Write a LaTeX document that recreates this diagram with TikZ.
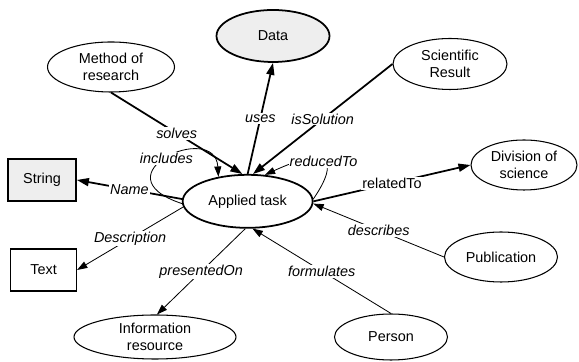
\documentclass[tikz,border=0pt]{standalone}
\usepackage{fontspec}
\setmainfont{Liberation Sans}
\usetikzlibrary{arrows.meta,shapes.geometric}
\definecolor{onshade}{RGB}{238,238,238}
\tikzset{
  concept/.style={ellipse, draw, line width=0.9pt, align=center, inner sep=0pt,
                  font=\fontsize{12.3}{14.5}\selectfont},
  core/.style={concept, line width=1.5pt},
  shaded/.style={core, fill=onshade},
  valbox/.style={rectangle, draw, line width=0.9pt, minimum width=1.97cm,
                 minimum height=1.26cm, font=\fontsize{12.3}{14.5}\selectfont},
  strong/.style={-{Triangle[length=3.6mm,width=2.4mm]}, line width=1.5pt},
  weak/.style={-{Triangle[length=3.1mm,width=2.1mm]}, line width=0.7pt},
  lab/.style={font=\fontsize{12.3}{14.5}\selectfont\itshape, fill=white, inner sep=1pt},
  uplab/.style={lab, font=\fontsize{12.3}{14.5}\selectfont}
}
\begin{document}
\begin{tikzpicture}
  \useasboundingbox (0,0) rectangle (17.37,10.86);
  % concepts
  \node[core, minimum width=3.9cm, minimum height=1.59cm] (task) at (7.43,4.82) {Applied task};
  \node[shaded, minimum width=3.39cm, minimum height=1.56cm] (data) at (8.19,9.78) {Data};
  \node[concept, minimum width=3.81cm, minimum height=1.5cm] (method) at (3.33,8.85) {Method of\\research};
  \node[concept, minimum width=3.42cm, minimum height=1.53cm] (result) at (13.5,8.94) {Scientific\\Result};
  \node[concept, minimum width=3.18cm, minimum height=1.5cm] (division) at (15.72,5.91) {Division of\\science};
  \node[concept, minimum width=3.39cm, minimum height=1.5cm] (pub) at (15.03,3.15) {Publication};
  \node[concept, minimum width=3.39cm, minimum height=1.38cm] (person) at (11.73,0.75) {Person};
  \node[concept, minimum width=4.86cm, minimum height=1.32cm] (info) at (4.65,0.75) {Information\\resource};
  % value types
  \node[valbox, fill=onshade, line width=1.5pt, minimum width=2.04cm] (str) at (1.26,5.46) {String};
  \node[valbox] (txt) at (1.31,2.76) {Text};
  % relations
  \draw[strong] (method.south) -- node[lab] {solves} (task.101);
  \draw[strong] (task.north) -- node[lab] {uses} (data.south);
  \draw[strong] (result.west) -- node[lab] {isSolution} (task.79);
  \draw[strong] (task.east) -- node[uplab] {relatedTo} (division.west);
  \draw[strong] (task.178) -- node[lab] {Name} (str.east);
  \draw[weak] (task.185) -- node[lab] {Description} (txt.east);
  \draw[weak] (task.-95) -- node[lab] {presentedOn} (info.85);
  \draw[weak] (person.north) -- node[lab] {formulates} (task.-80);
  \draw[weak] (pub.west) -- node[lab] {describes} (task.-2);
  \draw[weak] (task.182) .. controls (2.85,5.61) and (6.45,7.26) .. node[lab] {includes} (task.140);
  \draw[weak] (task.2) .. controls (10.2,6.06) and (9.9,6.51) .. node[lab] {reducedTo} (task.57);
\end{tikzpicture}
\end{document}
